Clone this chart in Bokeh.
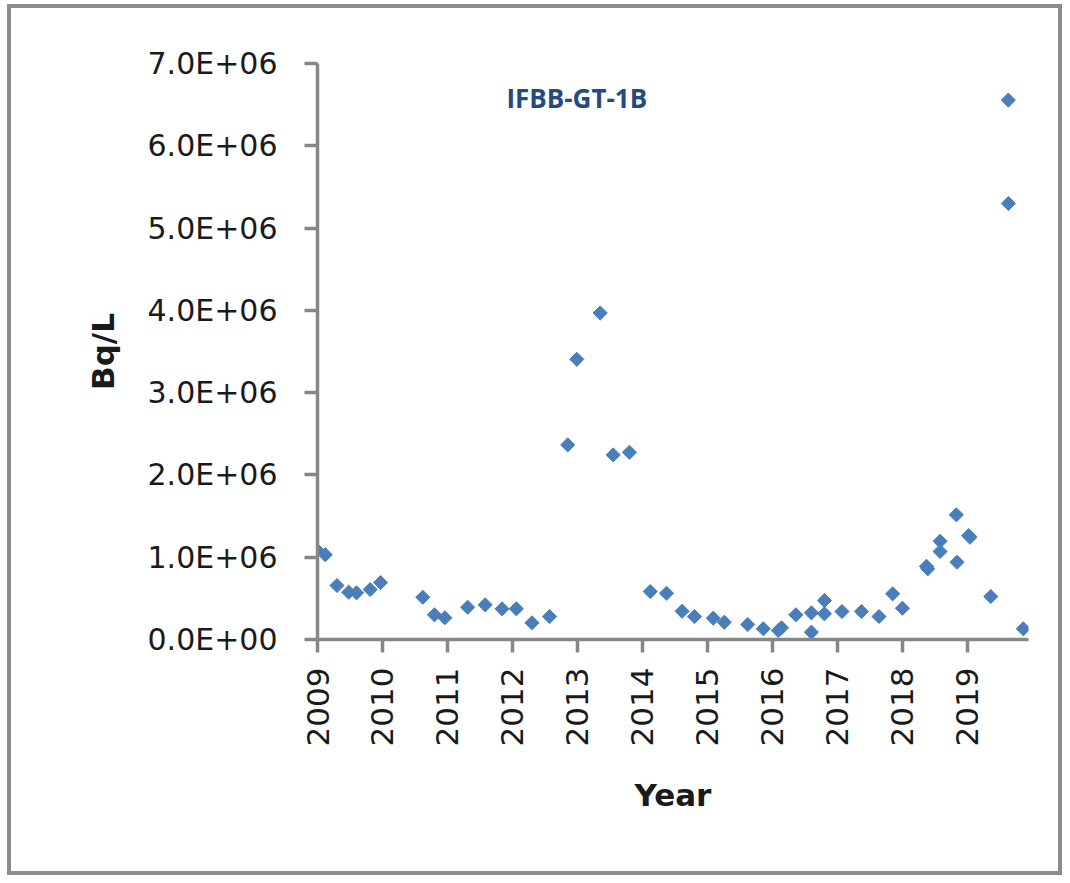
import numpy as np
from bokeh.plotting import figure
from bokeh.models import FixedTicker, Range1d, Label
from bokeh.embed import file_html
from bokeh.resources import INLINE

# Sample dates (fractional year) and activity (Bq/L)
year = [2009.00, 2009.12, 2009.30, 2009.48, 2009.60, 2009.81, 2009.97,
        2010.62, 2010.80, 2010.96, 2011.31, 2011.58, 2011.84, 2012.06,
        2012.30, 2012.57, 2012.85, 2012.99, 2013.35, 2013.55, 2013.80,
        2014.12, 2014.37, 2014.61, 2014.80, 2015.09, 2015.26, 2015.62,
        2015.86, 2016.09, 2016.14, 2016.36, 2016.60, 2016.60, 2016.80,
        2016.80, 2017.07, 2017.37, 2017.64, 2017.85, 2018.00, 2018.37,
        2018.39, 2018.58, 2018.58, 2018.83, 2018.84, 2019.02, 2019.04,
        2019.36, 2019.63, 2019.63, 2019.86]
bq_per_l = [1.08e6, 1.03e6, 0.656e6, 0.575e6, 0.567e6, 0.607e6, 0.692e6,
            0.514e6, 0.300e6, 0.264e6, 0.392e6, 0.421e6, 0.373e6, 0.373e6,
            0.203e6, 0.279e6, 2.365e6, 3.405e6, 3.968e6, 2.243e6, 2.275e6,
            0.583e6, 0.562e6, 0.343e6, 0.279e6, 0.259e6, 0.210e6, 0.182e6,
            0.130e6, 0.109e6, 0.142e6, 0.300e6, 0.324e6, 0.089e6, 0.474e6,
            0.312e6, 0.340e6, 0.340e6, 0.279e6, 0.555e6, 0.380e6, 0.890e6,
            0.859e6, 1.194e6, 1.069e6, 1.515e6, 0.939e6, 1.263e6, 1.243e6,
            0.522e6, 6.555e6, 5.299e6, 0.130e6]

x_ticks = list(range(2009, 2020))
x_labels = [str(t) for t in x_ticks]
y_ticks = [0, 1e6, 2e6, 3e6, 4e6, 5e6, 6e6, 7e6]
y_labels = ["0.0E+00", "1.0E+06", "2.0E+06", "3.0E+06", "4.0E+06",
            "5.0E+06", "6.0E+06", "7.0E+06"]
series_name = "IFBB-GT-1B"

p = figure(width=1055, height=871, output_backend="svg", toolbar_location=None,
           x_range=Range1d(2009, 2019.94), y_range=Range1d(0, 7e6),
           min_border_left=306, min_border_right=38, min_border_top=55,
           min_border_bottom=240)
p.styles = {"border": "4px solid #8c8c8c",
            "margin-left": "7px", "margin-top": "4px"}
p.outline_line_color = None
p.xgrid.visible = False
p.ygrid.visible = False
p.background_fill_color = "white"
p.border_fill_color = "white"

p.scatter(year, bq_per_l, marker="square", angle=np.pi / 4, size=10,
          fill_color="#4a7ebb", line_color="#4a7ebb", line_width=1)

axis_col = "#878787"
for ax in (p.xaxis[0], p.yaxis[0]):
    ax.axis_line_color = axis_col
    ax.axis_line_width = 3.5
    ax.major_tick_line_color = axis_col
    ax.major_tick_line_width = 3.5
    ax.major_tick_in = 0
    ax.major_tick_out = 13
    ax.minor_tick_line_color = None
    ax.major_label_text_font = "DejaVu Sans"
    ax.major_label_text_color = "#1a1a1a"
    ax.axis_label_text_font = "DejaVu Sans"
    ax.axis_label_text_font_style = "bold"
    ax.axis_label_text_font_size = "31px"
    ax.axis_label_text_color = "#1a1a1a"

p.xaxis.ticker = FixedTicker(ticks=x_ticks)
p.xaxis.major_label_overrides = {t: l for t, l in zip(x_ticks, x_labels)}
p.xaxis.major_label_orientation = np.pi / 2
p.xaxis.major_label_text_font_size = "31px"
p.xaxis.major_label_standoff = 15
p.xaxis.axis_label = "Year"
p.xaxis.axis_label_standoff = 28

p.yaxis.ticker = FixedTicker(ticks=y_ticks)
p.yaxis.major_label_overrides = {t: l for t, l in zip(y_ticks, y_labels)}
p.yaxis.major_label_text_font_size = "30px"
p.yaxis.major_label_standoff = 27
p.yaxis.axis_label = "Bq/L"
p.yaxis.axis_label_standoff = 24

p.add_layout(Label(x=2012.99, y=6.58e6, text=series_name, text_align="center",
                   text_baseline="middle", text_font="Open Sans",
                   text_font_style="bold", text_font_size="26px",
                   text_color="#264a7e"))

open("out.html", "w").write(file_html(p, INLINE))
